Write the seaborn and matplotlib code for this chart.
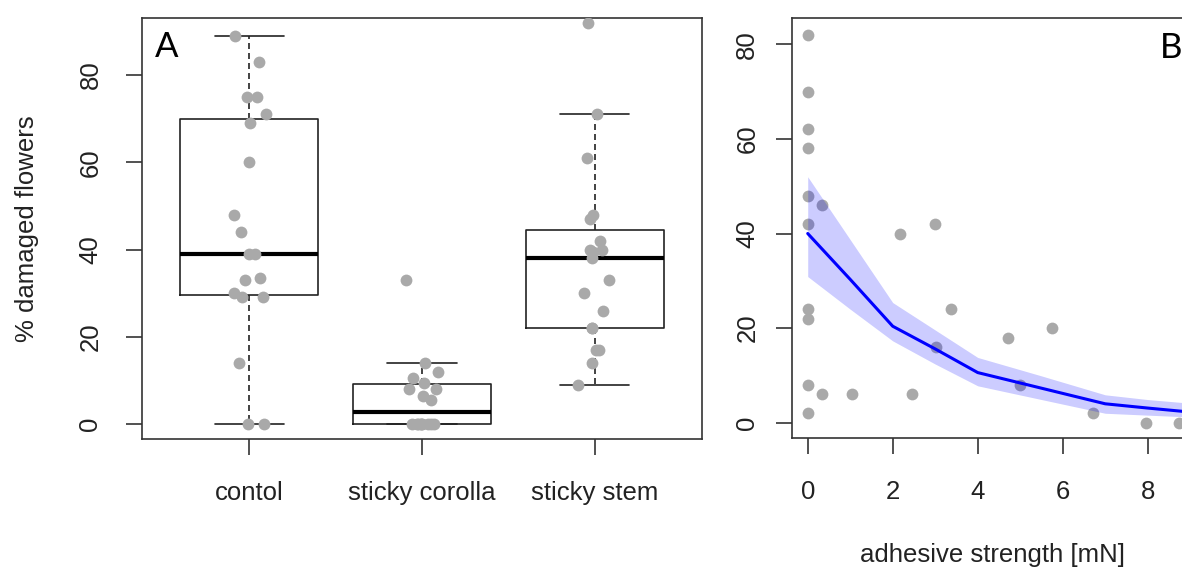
import numpy as np
import pandas as pd
import matplotlib
matplotlib.use("Agg")
import matplotlib.pyplot as plt
import seaborn as sns

# ---- Panel A: damaged flowers per treatment ----
groups = ["contol", "sticky corolla", "sticky stem"]
control = [89, 83, 75, 75, 71, 69, 60, 48, 44, 39, 39, 33.5, 33, 30, 29, 29, 14, 0, 0]
sticky_corolla = [33, 14, 12, 10.5, 9.5, 8, 8, 6.5, 5.5, 0, 0, 0, 0, 0, 0, 0, 0, 0]
sticky_stem = [92, 71, 61, 48, 47, 42, 40, 39.5, 40, 38, 33, 30, 26, 22, 22, 17, 17, 14, 9]

# ---- Panel B: damage against adhesive strength, with fitted curve ----
strength = [0, 0, 0, 0, 0, 0.33, 0, 2.17, 3.0, 0, 0, 3.36, 3.02, 0, 0.33, 1.04,
            2.45, 0, 4.72, 5.74, 5.0, 6.72, 7.96, 8.74]
damage = [82, 70, 62, 58, 48, 46, 42, 40, 42, 24, 22, 24, 16, 8, 6, 6,
          6, 2, 18, 20, 8, 2, 0, 0]
fit_x = [0, 1, 2, 3, 4, 5.5, 7, 8, 9.3]
fit_y = [40.0, 30.3, 20.4, 15.6, 10.6, 7.3, 4.0, 3.1, 2.0]
fit_lo = [30.9, 24.0, 17.3, 12.4, 7.8, 4.9, 2.0, 1.6, 1.1]
fit_hi = [52.0, 38.7, 25.4, 19.6, 13.8, 9.9, 5.9, 4.9, 3.9]

sns.set_style("ticks")
plt.rcParams["font.family"] = ["Liberation Sans", "DejaVu Sans"]

W, H = 1182, 571
fig = plt.figure(figsize=(W / 100, H / 100), dpi=100)
axA = fig.add_axes([142 / W, (H - 439) / H, 560 / W, 421 / H])
axB = fig.add_axes([792 / W, (H - 438) / H, 422 / W, 420 / H])

dfA = pd.DataFrame({
    "treatment": [groups[0]] * len(control) + [groups[1]] * len(sticky_corolla)
                 + [groups[2]] * len(sticky_stem),
    "damage": control + sticky_corolla + sticky_stem,
})

line_col = "#222222"
sns.boxplot(data=dfA, x="treatment", y="damage", order=groups, ax=axA,
            fill=False, color="black", width=0.8, linewidth=1.2,
            showfliers=False, whis=1.5,
            boxprops=dict(color=line_col),
            whiskerprops=dict(color=line_col, linestyle=(0, (3.6, 2.4))),
            capprops=dict(color=line_col),
            medianprops=dict(color="black", linewidth=3.0))
np.random.seed(7)
sns.stripplot(data=dfA, x="treatment", y="damage", order=groups, ax=axA,
              color="#A9A9A9", size=8.5, jitter=0.1, linewidth=0, zorder=3)

axA.set_xlim(-0.62, 2.62)
axA.set_ylim(-3.44, 93.07)
axA.set_yticks([0, 20, 40, 60, 80])
axA.set_xlabel("")
axA.set_ylabel("% damaged flowers", fontsize=18.5, color="#222222")
axA.yaxis.set_label_coords(-0.184, 0.5)

# scatter, confidence band and fitted curve
sns.scatterplot(x=strength, y=damage, ax=axB, color="#A9A9A9", s=72,
                linewidth=0, zorder=2)
axB.fill_between(fit_x, fit_lo, fit_hi, color="blue", alpha=0.2, lw=0, zorder=3)
sns.lineplot(x=fit_x, y=fit_y, ax=axB, color="blue", lw=2.2, zorder=4)
axB.set_xlim(-0.37, 9.56)
axB.set_ylim(-3.23, 85.56)
axB.set_xticks([0, 2, 4, 6, 8])
axB.set_yticks([0, 20, 40, 60, 80])
axB.set_xlabel("adhesive strength [mN]", fontsize=18.5, color="#222222")
axB.xaxis.set_label_coords(0.476, -0.25)
axB.set_ylabel("")

for ax in (axA, axB):
    for s in ax.spines.values():
        s.set_visible(True)
        s.set_linewidth(1.2)
        s.set_color("#333333")
    ax.tick_params(axis="both", length=11.5, width=1.2, color="#333333",
                   labelsize=18.5, labelcolor="#222222")
    ax.tick_params(axis="x", pad=19)
    for lbl in ax.get_yticklabels():
        lbl.set_rotation(90)
        lbl.set_va("center")
axA.tick_params(axis="y", pad=17)
axB.tick_params(axis="y", pad=12)

fig.text(155 / W, (H - 57) / H, "A", fontsize=25, family=["Lato", "DejaVu Sans"],
         ha="left", va="baseline", color="black")
fig.text(1160 / W, (H - 58) / H, "B", fontsize=25, family=["Lato", "DejaVu Sans"],
         ha="left", va="baseline", color="black")

fig.savefig("out.png", dpi=100)
